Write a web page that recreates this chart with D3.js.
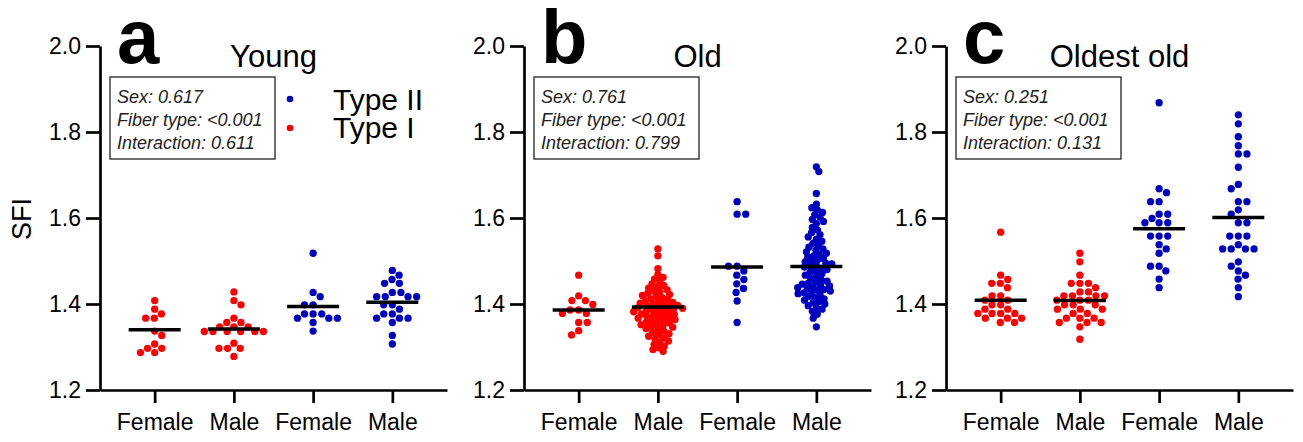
<!DOCTYPE html>
<html>
<head>
<meta charset="utf-8">
<script src="https://cdn.jsdelivr.net/npm/d3@7"></script>
<style>
  html, body { margin: 0; padding: 0; background: #fff; }
  svg { display: block; }
  text { font-family: "Liberation Sans", Arial, Helvetica, sans-serif; }
</style>
</head>
<body>
<svg id="chart" width="1303" height="442"></svg>
<script>
// ---------------- data ----------------
const panelLetters = ["a", "b", "c"];
const panelTitles = ["Young", "Old", "Oldest old"];
const categories = ["Female", "Male", "Female", "Male"];
const fiberTypes = ["Type I", "Type I", "Type II", "Type II"];
const yTicks = [1.2, 1.4, 1.6, 1.8, 2.0];
const yLabel = "SFI";
const legendLabels = ["Type II", "Type I"];

const statsYoung = ["Sex: 0.617", "Fiber type: <0.001", "Interaction: 0.611"];
const statsOld = ["Sex: 0.761", "Fiber type: <0.001", "Interaction: 0.799"];
const statsOldest = ["Sex: 0.251", "Fiber type: <0.001", "Interaction: 0.131"];

// Young
const youngFemaleI = [1.408, 1.388, 1.377, 1.367, 1.367, 1.337, 1.327, 1.307, 1.297, 1.297, 1.287, 1.287];
const youngMaleI = [1.428, 1.408, 1.398, 1.367, 1.357, 1.357, 1.347, 1.347, 1.347, 1.336, 1.336, 1.336, 1.336, 1.336, 1.336, 1.309, 1.297, 1.297, 1.297, 1.278];
const youngFemaleII = [1.518, 1.427, 1.417, 1.398, 1.398, 1.377, 1.377, 1.377, 1.367, 1.367, 1.367, 1.357, 1.337];
const youngMaleII = [1.478, 1.467, 1.457, 1.448, 1.448, 1.427, 1.427, 1.417, 1.417, 1.417, 1.417, 1.398, 1.398, 1.388, 1.377, 1.377, 1.367, 1.367, 1.367, 1.357, 1.327, 1.307];
const meansYoung = [1.340, 1.342, 1.394, 1.404];

// Old
const oldFemaleI = [1.467, 1.419, 1.408, 1.408, 1.399, 1.386, 1.386, 1.378, 1.378, 1.357, 1.357, 1.338, 1.328];
const oldMaleI = [1.528, 1.512, 1.482, 1.468, 1.462, 1.458, 1.452, 1.447, 1.443, 1.440, 1.437, 1.433, 1.431, 1.428, 1.425, 1.422, 1.420, 1.418, 1.415, 1.412, 1.410, 1.408, 1.406, 1.404, 1.402, 1.400, 1.399, 1.397, 1.396, 1.394, 1.392, 1.391, 1.390, 1.388, 1.387, 1.386, 1.384, 1.382, 1.381, 1.379, 1.377, 1.376, 1.374, 1.372, 1.371, 1.369, 1.367, 1.366, 1.364, 1.362, 1.360, 1.358, 1.356, 1.354, 1.352, 1.350, 1.348, 1.346, 1.343, 1.340, 1.337, 1.334, 1.331, 1.328, 1.325, 1.321, 1.318, 1.314, 1.310, 1.306, 1.302, 1.298, 1.294, 1.290];
const oldFemaleII = [1.638, 1.609, 1.609, 1.488, 1.488, 1.477, 1.467, 1.457, 1.447, 1.436, 1.427, 1.407, 1.357];
const oldMaleII = [1.719, 1.708, 1.657, 1.632, 1.624, 1.619, 1.613, 1.608, 1.602, 1.597, 1.592, 1.587, 1.578, 1.572, 1.566, 1.561, 1.556, 1.551, 1.546, 1.541, 1.536, 1.532, 1.528, 1.525, 1.521, 1.518, 1.515, 1.512, 1.509, 1.506, 1.503, 1.500, 1.498, 1.495, 1.493, 1.490, 1.488, 1.486, 1.483, 1.480, 1.477, 1.474, 1.471, 1.467, 1.463, 1.459, 1.456, 1.453, 1.451, 1.448, 1.446, 1.444, 1.442, 1.440, 1.438, 1.436, 1.434, 1.432, 1.430, 1.428, 1.426, 1.424, 1.421, 1.418, 1.415, 1.412, 1.409, 1.406, 1.403, 1.400, 1.396, 1.392, 1.388, 1.383, 1.376, 1.367, 1.347];
const meansOld = [1.386, 1.393, 1.486, 1.487];

// Oldest old
const oldestFemaleI = [1.567, 1.467, 1.457, 1.448, 1.448, 1.438, 1.419, 1.419, 1.409, 1.409, 1.398, 1.398, 1.388, 1.388, 1.378, 1.378, 1.378, 1.378, 1.367, 1.367, 1.367, 1.357, 1.357];
const oldestMaleI = [1.518, 1.498, 1.467, 1.448, 1.448, 1.448, 1.438, 1.428, 1.428, 1.419, 1.419, 1.419, 1.419, 1.409, 1.409, 1.409, 1.398, 1.398, 1.398, 1.388, 1.388, 1.388, 1.378, 1.378, 1.367, 1.367, 1.367, 1.357, 1.357, 1.357, 1.347, 1.318];
const oldestFemaleII = [1.868, 1.668, 1.659, 1.638, 1.638, 1.609, 1.609, 1.599, 1.589, 1.589, 1.589, 1.558, 1.558, 1.558, 1.538, 1.528, 1.518, 1.488, 1.488, 1.477, 1.458, 1.438];
const oldestMaleII = [1.840, 1.819, 1.789, 1.768, 1.749, 1.749, 1.718, 1.678, 1.668, 1.638, 1.638, 1.619, 1.609, 1.589, 1.589, 1.558, 1.558, 1.558, 1.538, 1.528, 1.528, 1.528, 1.528, 1.498, 1.488, 1.477, 1.467, 1.458, 1.438, 1.417];
const meansOldest = [1.409, 1.408, 1.575, 1.601];

const colorByType = { "Type I": "#ff0000", "Type II": "#0000c0" };

// ---------------- assemble ----------------
const panels = [
  { letter: panelLetters[0], title: panelTitles[0], stats: statsYoung, groups: [youngFemaleI, youngMaleI, youngFemaleII, youngMaleII], means: meansYoung, legend: true },
  { letter: panelLetters[1], title: panelTitles[1], stats: statsOld, groups: [oldFemaleI, oldMaleI, oldFemaleII, oldMaleII], means: meansOld, legend: false },
  { letter: panelLetters[2], title: panelTitles[2], stats: statsOldest, groups: [oldestFemaleI, oldestMaleI, oldestFemaleII, oldestMaleII], means: meansOldest, legend: false }
];

const svg = d3.select("#chart");
const W = 1303, H = 442;
svg.append("rect").attr("width", W).attr("height", H).attr("fill", "#fff");

const axisX0 = [100, 524, 946];
const plotW = 347;
const yTop = 46, yBottom = 390;
const y = d3.scaleLinear().domain([1.2, 2.0]).range([yBottom, yTop]);
const dotR = 3.65;
const AX_W = 2.7;

// beeswarm layout (greedy, elliptical collision)
function swarm(vals, sx, sy) {
  const pts = vals.map(v => ({ v, y: y(v), x: 0 })).sort((a, b) => a.y - b.y);
  const placed = [];
  let flip = 1;
  for (const p of pts) {
    const cands = [0];
    for (const q of placed) {
      const dy = (p.y - q.y) / sy;
      if (Math.abs(dy) < 1) {
        const dx = sx * Math.sqrt(1 - dy * dy) + 0.01;
        cands.push(q.x + dx, q.x - dx);
      }
    }
    cands.sort((a, b) => (Math.abs(a) - Math.abs(b)) || (flip * (b - a)));
    let chosen = null;
    for (const c of cands) {
      const ok = placed.every(q => ((c - q.x) / sx) ** 2 + ((p.y - q.y) / sy) ** 2 >= 0.999);
      if (ok) { chosen = c; break; }
    }
    p.x = chosen === null ? 0 : chosen;
    if (p.x > 0.01) flip = -1; else if (p.x < -0.01) flip = 1;
    placed.push(p);
  }
  return pts;
}

panels.forEach((pn, pi) => {
  const x0 = axisX0[pi];
  const g = svg.append("g");
  const keys = categories.map((c, i) => c + i);
  const x = d3.scalePoint().domain(keys).range([x0, x0 + plotW]).padding(0.69);

  // y axis
  const yAxis = d3.axisLeft(y).tickValues(yTicks).tickSize(14).tickPadding(5)
    .tickSizeOuter(0).tickFormat(d3.format(".1f"));
  const ya = g.append("g").attr("transform", `translate(${x0},0)`).call(yAxis);
  ya.select(".domain").attr("stroke", "#000").attr("stroke-width", AX_W);
  ya.selectAll(".tick line").attr("stroke", "#000").attr("stroke-width", AX_W);
  ya.selectAll(".tick text").attr("font-size", 23).attr("fill", "#000")
    .style("font-family", '"Liberation Sans", Arial, sans-serif');

  // x axis
  const xAxis = d3.axisBottom(x).tickSize(13).tickPadding(11).tickSizeOuter(0)
    .tickFormat((d, i) => categories[i]);
  const xa = g.append("g").attr("transform", `translate(0,${yBottom})`).call(xAxis);
  xa.select(".domain").attr("stroke", "#000").attr("stroke-width", AX_W);
  xa.selectAll(".tick line").attr("stroke", "#000").attr("stroke-width", AX_W);
  xa.selectAll(".tick text").attr("font-size", 23).attr("fill", "#000")
    .style("font-family", '"Liberation Sans", Arial, sans-serif');

  // dots
  pn.groups.forEach((vals, gi) => {
    const dense = vals.length > 40;
    const pts = dense ? swarm(vals, 6.0, 5.2) : swarm(vals, 8.6, 7.6);
    const cx = x(keys[gi]);
    g.append("g").selectAll("circle").data(pts).join("circle")
      .attr("cx", d => cx + d.x)
      .attr("cy", d => d.y)
      .attr("r", dotR)
      .attr("fill", colorByType[fiberTypes[gi]]);
  });

  // mean lines
  g.append("g").selectAll("line").data(pn.means).join("line")
    .attr("x1", (d, i) => x(keys[i]) - 26)
    .attr("x2", (d, i) => x(keys[i]) + 26)
    .attr("y1", d => y(d)).attr("y2", d => y(d))
    .attr("stroke", "#000").attr("stroke-width", 3.5);

  // panel letter
  g.append("text").attr("x", x0 + 17).attr("y", 63)
    .attr("font-size", 76).attr("font-weight", "bold").attr("fill", "#000")
    .text(pn.letter);

  // title
  g.append("text").attr("x", x0 + plotW / 2).attr("y", 67)
    .attr("text-anchor", "middle").attr("font-size", 31).attr("fill", "#000")
    .text(pn.title);

  // stats box
  const bx = x0 + 10, by = 77, bw = 165, bh = 82;
  g.append("rect").attr("x", bx).attr("y", by).attr("width", bw).attr("height", bh)
    .attr("fill", "#fff").attr("stroke", "#333").attr("stroke-width", 1.4);
  g.append("g").selectAll("text").data(pn.stats).join("text")
    .attr("x", bx + 7).attr("y", (d, i) => 103 + i * 23)
    .attr("font-size", 18).attr("font-style", "italic").attr("fill", "#222")
    .text(d => d);

  if (pn.legend) {
    const lg = g.append("g");
    const legColors = [colorByType["Type II"], colorByType["Type I"]];
    legendLabels.forEach((lab, i) => {
      lg.append("circle").attr("cx", 290).attr("cy", 99 + i * 29).attr("r", 3.3).attr("fill", legColors[i]);
      lg.append("text").attr("x", 333).attr("y", 110 + i * 28).attr("font-size", 30).attr("fill", "#000").text(lab);
    });
  }
});

// y axis label
svg.append("text").attr("transform", "translate(31,219) rotate(-90)")
  .attr("text-anchor", "middle").attr("font-size", 27).attr("fill", "#000").text(yLabel);
</script>
</body>
</html>
